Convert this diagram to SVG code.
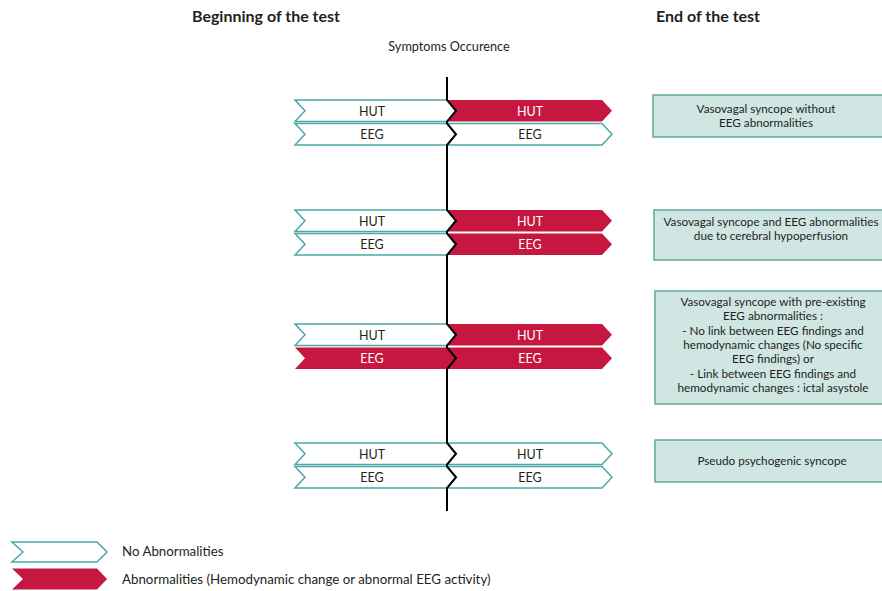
<svg xmlns="http://www.w3.org/2000/svg" width="882" height="591" viewBox="0 0 882 591">
<style>
  text { font-family: Lato, "Open Sans", "Liberation Sans", sans-serif; fill: #231f20; }
  .head { font-size: 16px; font-weight: bold; text-anchor: middle; }
  .sub { font-size: 12.7px; text-anchor: middle; }
  .lab { font-size: 12.5px; text-anchor: middle; }
  .labw { font-size: 12.5px; text-anchor: middle; fill: #ffffff; }
  .box { fill: #cfe6e3; stroke: #5ea8a2; stroke-width: 1.5; }
  .bt { font-size: 11.7px; text-anchor: middle; }
  .wa { fill: #ffffff; stroke: #4aa8a6; stroke-width: 1.5; }
  .ra { fill: #c5173f; stroke: none; }
  .leg { font-size: 13.3px; }
  .axis { fill: none; stroke: #000000; stroke-width: 2; stroke-linejoin: miter; }
</style>
<defs>
  <polygon id="L" points="295,0 447,0 456,10.75 447,21.5 295,21.5 305,10.75"/>
  <polygon id="R" points="447,0 602,0 612,10.75 602,21.5 447,21.5 456,10.75"/>
</defs>

<text class="head" x="266" y="22">Beginning of the test</text>
<text class="head" x="708" y="22">End of the test</text>
<text class="sub" x="449" y="51">Symptoms Occurence</text>

<g id="row1">
  <use href="#L" class="wa" y="100"/>
  <use href="#R" class="ra" y="100"/>
  <use href="#L" class="wa" y="123.5"/>
  <use href="#R" class="wa" y="123.5"/>
  <text class="lab" x="372" y="115.5">HUT</text>
  <text class="labw" x="530" y="115.5">HUT</text>
  <text class="lab" x="372" y="139">EEG</text>
  <text class="lab" x="530" y="139">EEG</text>
</g>
<g id="row2">
  <use href="#L" class="wa" y="210"/>
  <use href="#R" class="ra" y="210"/>
  <use href="#L" class="wa" y="233.5"/>
  <use href="#R" class="ra" y="233.5"/>
  <text class="lab" x="372" y="225.5">HUT</text>
  <text class="labw" x="530" y="225.5">HUT</text>
  <text class="lab" x="372" y="249">EEG</text>
  <text class="labw" x="530" y="249">EEG</text>
</g>
<g id="row3">
  <use href="#L" class="wa" y="324"/>
  <use href="#R" class="ra" y="324"/>
  <use href="#L" class="ra" y="347.5"/>
  <use href="#R" class="ra" y="347.5"/>
  <text class="lab" x="372" y="339.5">HUT</text>
  <text class="labw" x="530" y="339.5">HUT</text>
  <text class="labw" x="372" y="363">EEG</text>
  <text class="labw" x="530" y="363">EEG</text>
</g>
<g id="row4">
  <use href="#L" class="wa" y="443"/>
  <use href="#R" class="wa" y="443"/>
  <use href="#L" class="wa" y="466.5"/>
  <use href="#R" class="wa" y="466.5"/>
  <text class="lab" x="372" y="458.5">HUT</text>
  <text class="lab" x="530" y="458.5">HUT</text>
  <text class="lab" x="372" y="482">EEG</text>
  <text class="lab" x="530" y="482">EEG</text>
</g>

<g id="connectors">
  <path class="axis" d="M447,77 L447,100 L456,110.75 L447,121.5 L447,123.5 L456,134.25 L447,145 L447,210 L456,220.75 L447,231.5 L447,233.5 L456,244.25 L447,255 L447,324 L456,334.75 L447,345.5 L447,347.5 L456,358.25 L447,369 L447,443 L456,453.75 L447,464.5 L447,466.5 L456,477.25 L447,488 L447,511"/>
</g>

<g id="box1">
  <rect class="box" x="653" y="95" width="240" height="42"/>
  <text class="bt" x="766" y="113">Vasovagal syncope without</text>
  <text class="bt" x="766" y="127.3">EEG abnormalities</text>
</g>
<g id="box2">
  <rect class="box" x="654" y="210" width="240" height="50"/>
  <text class="bt" x="771" y="226">Vasovagal syncope and EEG abnormalities</text>
  <text class="bt" x="771" y="240.3">due to cerebral hypoperfusion</text>
</g>
<g id="box3">
  <rect class="box" x="655" y="291" width="240" height="113"/>
  <text class="bt" x="773" y="306">Vasovagal syncope with pre-existing</text>
  <text class="bt" x="773" y="320.3">EEG abnormalities :</text>
  <text class="bt" x="773" y="334.6">- No link between EEG findings and</text>
  <text class="bt" x="773" y="348.9">hemodynamic changes (No specific</text>
  <text class="bt" x="773" y="363.2">EEG findings) or</text>
  <text class="bt" x="773" y="377.5">- Link between EEG findings and</text>
  <text class="bt" x="773" y="391.8">hemodynamic changes : ictal asystole</text>
</g>
<g id="box4">
  <rect class="box" x="655" y="440" width="240" height="42"/>
  <text class="bt" x="772" y="465">Pseudo psychogenic syncope</text>
</g>

<g id="legend">
  <polygon class="wa" points="12,542 97,542 107,552 97,562 12,562 23,552"/>
  <polygon class="ra" points="12,568.5 97,568.5 107,579 97,589.5 12,589.5 23,579"/>
  <text class="leg" x="122" y="556">No Abnormalities</text>
  <text class="leg" x="122" y="583.5">Abnormalities (Hemodynamic change or abnormal EEG activity)</text>
</g>
</svg>
